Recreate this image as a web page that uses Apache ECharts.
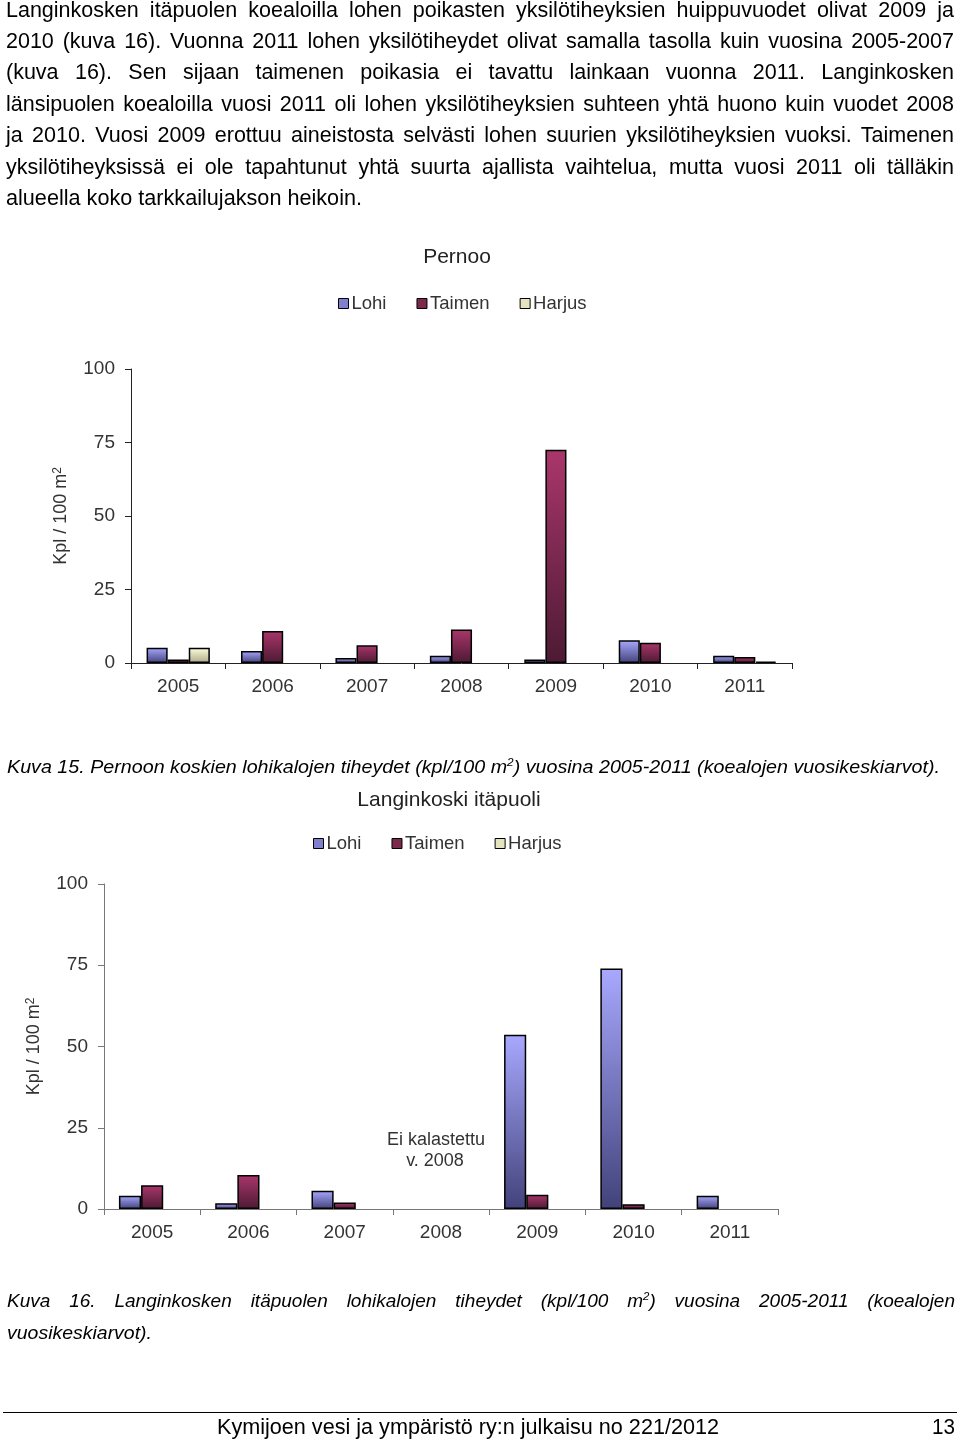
<!DOCTYPE html>
<html><head><meta charset="utf-8">
<script src="https://cdn.jsdelivr.net/npm/echarts@6/dist/echarts.min.js"></script>
<style>
html,body{margin:0;padding:0;background:#fff;}
#page{position:relative;width:960px;height:1440px;overflow:hidden;font-family:"Liberation Sans",Arial,Helvetica,sans-serif;color:#000;}
#chart{position:absolute;left:0;top:0;width:960px;height:1440px;}
.t{position:absolute;white-space:nowrap;line-height:30px;height:30px;}
.t span{display:inline-block;transform-origin:0 50%;}
.p{font-size:21.5px;}
.c{font-size:19px;font-style:italic;font-family:"Liberation Sans Narrow","Liberation Sans",Arial,sans-serif;}
.f{font-size:22px;font-family:"Liberation Sans Narrow","Liberation Sans",Arial,sans-serif;}
sup{font-size:60%;line-height:0;vertical-align:super;}
#rule{position:absolute;left:3px;top:1412px;width:954px;height:1px;background:#000;}
</style></head>
<body><div id="page">
<div id="chart"></div>
<div class="t p" data-x0="6" data-x1="954" data-cy="10" data-mode="justify"><span>Langinkosken itäpuolen koealoilla lohen poikasten yksilötiheyksien huippuvuodet olivat 2009 ja</span></div>
<div class="t p" data-x0="6" data-x1="954" data-cy="41" data-mode="justify"><span>2010 (kuva 16). Vuonna 2011 lohen yksilötiheydet olivat samalla tasolla kuin vuosina 2005-2007</span></div>
<div class="t p" data-x0="6" data-x1="954" data-cy="72" data-mode="justify"><span>(kuva 16). Sen sijaan taimenen poikasia ei tavattu lainkaan vuonna 2011. Langinkosken</span></div>
<div class="t p" data-x0="6" data-x1="954" data-cy="104" data-mode="justify"><span>länsipuolen koealoilla vuosi 2011 oli lohen yksilötiheyksien suhteen yhtä huono kuin vuodet 2008</span></div>
<div class="t p" data-x0="6" data-x1="954" data-cy="135" data-mode="justify"><span>ja 2010. Vuosi 2009 erottuu aineistosta selvästi lohen suurien yksilötiheyksien vuoksi. Taimenen</span></div>
<div class="t p" data-x0="6" data-x1="954" data-cy="167" data-mode="justify"><span>yksilötiheyksissä ei ole tapahtunut yhtä suurta ajallista vaihtelua, mutta vuosi 2011 oli tälläkin</span></div>
<div class="t p" data-x0="6" data-x1="362" data-cy="198" data-mode="fit"><span>alueella koko tarkkailujakson heikoin.</span></div>
<div class="t c" data-x0="7" data-x1="940" data-cy="767" data-mode="fit"><span>Kuva 15. Pernoon koskien lohikalojen tiheydet (kpl/100 m<sup>2</sup>) vuosina 2005-2011 (koealojen vuosikeskiarvot).</span></div>
<div class="t c" data-x0="7" data-x1="955" data-cy="1301" data-mode="justify"><span>Kuva 16. Langinkosken itäpuolen lohikalojen tiheydet (kpl/100 m<sup>2</sup>) vuosina 2005-2011 (koealojen</span></div>
<div class="t c" data-x0="7" data-x1="152" data-cy="1333" data-mode="fit"><span>vuosikeskiarvot).</span></div>
<div id="rule"></div>
<div class="t f" data-x0="217" data-x1="719" data-cy="1427" data-mode="fit"><span>Kymijoen vesi ja ympäristö ry:n julkaisu no 221/2012</span></div>
<div class="t f" data-x0="932" data-x1="955" data-cy="1427" data-mode="fit"><span>13</span></div>
</div>
<script>
// ---- data ----
const years = ['2005', '2006', '2007', '2008', '2009', '2010', '2011'];
const seriesNames = ['Lohi', 'Taimen', 'Harjus'];
const pernooLohi   = [5.2, 4.1, 1.7, 2.5, 1.2, 7.7, 2.5];
const pernooTaimen = [1.2, 10.9, 6.0, 11.4, 72.5, 6.9, 2.0];
const pernooHarjus = [5.2, null, null, null, null, null, 0.5];
const langLohi     = [4.1, 1.8, 5.6, null, 53.6, 74.0, 4.1];
const langTaimen   = [7.3, 10.5, 2.0, null, 4.4, 1.5, null];
const langHarjus   = [null, null, null, null, null, null, null];
const yMin = 0, yMax = 100, yStep = 25;
const chartTitles = ['Pernoo', 'Langinkoski itäpuoli'];
const noteLines = ['Ei kalastettu', 'v. 2008'];

// ---- text layout ----
function layoutText() {
  document.querySelectorAll('.t').forEach(el => {
    const span = el.firstElementChild;
    const x0 = +el.dataset.x0, x1 = +el.dataset.x1, cy = +el.dataset.cy;
    el.style.left = x0 + 'px';
    el.style.top = (cy - 15) + 'px';
    const w = span.getBoundingClientRect().width;
    const target = x1 - x0;
    if (el.dataset.mode === 'justify') {
      const n = (span.textContent.match(/ /g) || []).length;
      if (n) span.style.wordSpacing = ((target - w) / n) + 'px';
    } else if (el.dataset.mode === 'fit') {
      span.style.transform = 'scaleX(' + (target / w) + ')';
    }
  });
}
layoutText();

// ---- chart ----
const G = echarts.graphic.LinearGradient;
const fills = [
  new G(0, 0, 0, 1, [{offset: 0, color: '#a8a8ff'}, {offset: 1, color: '#42427a'}]),
  new G(0, 0, 0, 1, [{offset: 0, color: '#aa366b'}, {offset: 1, color: '#4c1a33'}]),
  new G(0, 0, 0, 1, [{offset: 0, color: '#ffffdc'}, {offset: 1, color: '#a9a988'}])
];
const legendColors = ['#8080cc', '#7b2a4c', '#e4e4c0'];
const FONT = 'Liberation Sans, Arial, sans-serif';

function legendData() {
  return seriesNames.map((n, i) => ({name: n, itemStyle: {color: legendColors[i], borderColor: '#000', borderWidth: 1}}));
}
function xAxis(gi, lineColor) {
  return {
    type: 'category', gridIndex: gi, data: years,
    axisLine: {lineStyle: {color: lineColor, width: 1}},
    axisTick: {show: true, length: 6, lineStyle: {color: lineColor}},
    axisLabel: {fontSize: 19, color: '#333', margin: 14, fontFamily: FONT}
  };
}
function yAxis(gi, lineColor) {
  return {
    type: 'value', gridIndex: gi, min: yMin, max: yMax, interval: yStep,
    axisLine: {show: true, lineStyle: {color: lineColor, width: 1}},
    axisTick: {show: true, length: 6, lineStyle: {color: lineColor}},
    axisLabel: {fontSize: 19, color: '#333', margin: 16, fontFamily: FONT},
    splitLine: {show: false},
    name: 'Kpl / 100 m{sup|2}', nameLocation: 'middle', nameGap: 60, nameRotate: 90,
    nameMoveOverlap: false,
    nameTextStyle: {fontSize: 18, color: '#333', fontFamily: FONT,
      rich: {sup: {fontSize: 12, color: '#333', verticalAlign: 'top', padding: [0, 0, 7, 0]}}}
  };
}
function bars(gi, data, gap) {
  return data.map((d, i) => ({
    type: 'bar', name: seriesNames[i], xAxisIndex: gi, yAxisIndex: gi, data: d,
    barGap: '0%', barCategoryGap: gap,
    itemStyle: {color: fills[i], borderColor: '#000', borderWidth: 1.5},
    emphasis: {disabled: true}
  }));
}

const chart = echarts.init(document.getElementById('chart'), null, {renderer: 'canvas'});
chart.setOption({
  animation: false,
  textStyle: {fontFamily: FONT},
  grid: [
    {left: 131, top: 369, width: 661, height: 294},
    {left: 104, top: 884, width: 674, height: 325}
  ],
  legend: [
    {data: legendData(), left: 338, top: 294, padding: 0, itemWidth: 10, itemHeight: 10, itemGap: 30, icon: 'rect',
     textStyle: {fontSize: 18.5, color: '#333', padding: [0, 0, 0, -2]}, selectedMode: false},
    {data: legendData(), left: 313, top: 834, padding: 0, itemWidth: 10, itemHeight: 10, itemGap: 30, icon: 'rect',
     textStyle: {fontSize: 18.5, color: '#333', padding: [0, 0, 0, -2]}, selectedMode: false}
  ],
  xAxis: [xAxis(0, '#222'), xAxis(1, '#777')],
  yAxis: [yAxis(0, '#222'), yAxis(1, '#777')],
  series: [].concat(
    bars(0, [pernooLohi, pernooTaimen, pernooHarjus], '33%'),
    bars(1, [langLohi, langTaimen, langHarjus], '31%')
  ),
  graphic: [
    {type: 'text', x: 457, y: 257, style: {text: chartTitles[0], fontSize: 21, fill: '#222', align: 'center', verticalAlign: 'middle', fontFamily: FONT}},
    {type: 'text', x: 449, y: 800, style: {text: chartTitles[1], fontSize: 21, fill: '#222', align: 'center', verticalAlign: 'middle', fontFamily: FONT}},
    {type: 'text', x: 436, y: 1140, style: {text: noteLines[0], fontSize: 18, fill: '#333', align: 'center', verticalAlign: 'middle', fontFamily: FONT}},
    {type: 'text', x: 435, y: 1161, style: {text: noteLines[1], fontSize: 18, fill: '#333', align: 'center', verticalAlign: 'middle', fontFamily: FONT}}
  ]
});
</script>
</body></html>
